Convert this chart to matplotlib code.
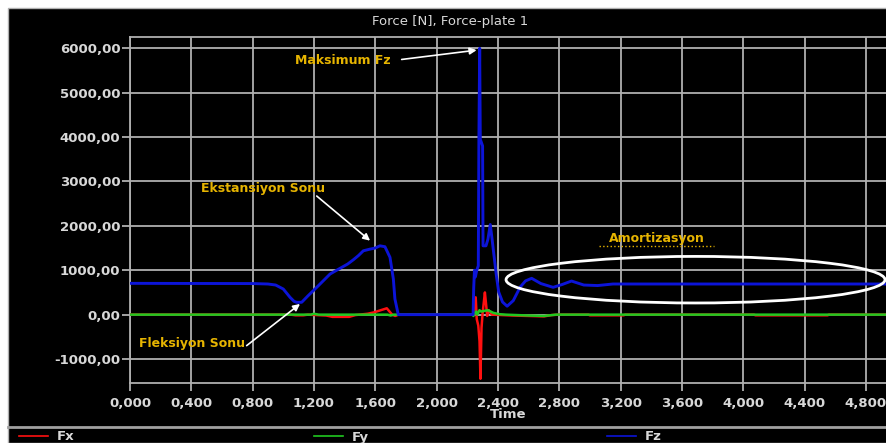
import matplotlib.pyplot as plt
from matplotlib.patches import Ellipse, Rectangle
from matplotlib.lines import Line2D

# data (time [s], force [N])
fz_t = [0.0, 0.4, 0.8, 0.9, 0.95, 1.0, 1.044, 1.07, 1.087, 1.12, 1.16, 1.218, 1.26,
        1.305, 1.37, 1.42, 1.457, 1.49, 1.522, 1.566, 1.6, 1.63, 1.663, 1.696, 1.718,
        1.728, 1.75, 2.0, 2.238, 2.242, 2.247, 2.253, 2.262, 2.272, 2.276, 2.281, 2.285,
        2.3, 2.303, 2.322, 2.335, 2.35, 2.362, 2.372, 2.39, 2.405, 2.43, 2.46, 2.5,
        2.545, 2.58, 2.62, 2.68, 2.76, 2.82, 2.88, 2.96, 3.05, 3.15, 4.0, 4.94]
fz_v = [705, 702, 700, 690, 667, 577, 390, 300, 278, 278, 420, 615, 760,
        915, 1043, 1140, 1236, 1330, 1438, 1476, 1500, 1550, 1530, 1290, 800,
        353, 0, 0, 0, 600, 1000, 850, 1000, 1100, 4000, 6000, 3950,
        3800, 1550, 1550, 1700, 2030, 1700, 1400, 880, 510, 285, 190, 315,
        620, 760, 818, 700, 615, 680, 757, 667, 655, 690, 690, 690]

fx_t = [0.0, 1.05, 1.08, 1.13, 1.16, 1.28, 1.32, 1.43, 1.47, 1.55, 1.59, 1.675, 1.71,
        1.73, 1.75, 2.238, 2.255, 2.262, 2.272, 2.28, 2.286, 2.293, 2.3, 2.315, 2.322,
        2.33, 2.34, 2.36, 2.5, 2.6, 2.7, 2.75, 2.8, 2.99, 3.0, 3.22, 3.23, 4.07, 4.08,
        4.55, 4.56, 4.94]
fx_v = [0, 0, -15, -15, 0, -20, -50, -50, -10, 20, 50, 143, 0,
        -30, 0, 0, 390, -100, -250, -600, -1445, -300, 30, 500, 260,
        -30, 100, 0, -20, -30, -40, -10, 0, 0, -15, -15, 0, 0, -15,
        -15, 0, 0]

fy_t = [0.0, 1.18, 1.2, 1.23, 1.68, 1.7, 1.72, 2.238, 2.24, 2.25, 2.258, 2.265, 2.28,
        2.29, 2.335, 2.37, 2.41, 2.45, 2.6, 2.7, 2.78, 4.94]
fy_v = [0, 0, 20, 0, 0, -20, 0, 0, -30, 40, 70, 0, 100,
        70, 100, 40, 10, 0, -20, -30, 0, 0]

x_ticks = [0.0, 0.4, 0.8, 1.2, 1.6, 2.0, 2.4, 2.8, 3.2, 3.6, 4.0, 4.4, 4.8]
y_ticks = [-1000, 0, 1000, 2000, 3000, 4000, 5000, 6000]

W, H = 887, 443
fig = plt.figure(figsize=(W / 100, H / 100), dpi=100, facecolor='white')
# black panel with a thin white margin on the left and top
fig.patches.append(Rectangle((8 / W, 0), 1 - 8 / W, 1 - 8 / H, transform=fig.transFigure,
                             facecolor='black', edgecolor='#b0b0b0', lw=1, zorder=-5))

ax = fig.add_axes([130 / W, 60 / H, (W - 130) / W, 346 / H])
ax.set_zorder(2)
ax.set_facecolor('black')
grid_c = '#b0b0b0'

l1, = ax.plot(fx_t, fx_v, color='#ff1010', lw=1.8, zorder=3)
l2, = ax.plot(fy_t, fy_v, color='#20c820', lw=1.8, zorder=4)
l3, = ax.plot(fz_t, fz_v, color='#0c14d8', lw=2.1, zorder=5)

ax.set_xlim(0, 4.938)
ax.set_ylim(-1540, 6254)
ax.set_xticks(x_ticks)
ax.set_yticks(y_ticks)
ax.set_xticklabels([f"{v:.3f}".replace('.', ',') for v in x_ticks])
ax.set_yticklabels([f"{v:.2f}".replace('.', ',') for v in y_ticks])
ax.grid(True, color=grid_c, lw=1.3, zorder=1)
ax.set_axisbelow(True)
ax.tick_params(colors=grid_c, length=6, width=1.3, labelcolor='#d8d8d8', labelsize=9.5)
for lab in ax.get_xticklabels() + ax.get_yticklabels():
    lab.set_fontweight('bold')
ax.tick_params(axis='y', pad=1)
ax.tick_params(axis='x', pad=4)
for s in ['left', 'bottom', 'top']:
    ax.spines[s].set_color(grid_c)
    ax.spines[s].set_linewidth(1.3)
ax.spines['right'].set_visible(False)

ax.set_xlabel('Time', color='#d8d8d8', fontsize=9.5, fontweight='bold', labelpad=-1)
fig.text(450 / W, 1 - 21 / H, 'Force [N], Force-plate 1', color='#d8d8d8',
         fontsize=9.5, ha='center', va='center')

# annotations
yel = '#e6b400'
arr = dict(arrowstyle='-|>', color='white', lw=1.2, mutation_scale=10, shrinkA=0, shrinkB=0)
ax.text(1.386, 5717, 'Maksimum Fz', color=yel, fontsize=9, fontweight='bold',
        ha='center', va='center', zorder=7)
ax.annotate('', xy=(2.261, 5958), xytext=(1.772, 5748), arrowprops=arr, zorder=7)
ax.text(0.868, 2836, 'Ekstansiyon Sonu', color=yel, fontsize=9, fontweight='bold',
        ha='center', va='center', zorder=7)
ax.annotate('', xy=(1.566, 1666), xytext=(1.218, 2672), arrowprops=arr, zorder=7)
ax.text(0.402, -644, 'Fleksiyon Sonu', color=yel, fontsize=9, fontweight='bold',
        ha='center', va='center', zorder=7)
ax.annotate('', xy=(1.109, 241), xytext=(0.761, -698), arrowprops=arr, zorder=7)
ax.text(3.436, 1726, 'Amortizasyon', color=yel, fontsize=9, fontweight='bold',
        ha='center', va='center', zorder=7)
ax.plot([3.06, 3.81], [1545, 1545], color=yel, lw=1, ls=':', zorder=6)
ax.add_patch(Ellipse((3.689, 787), 2.472, 1049, fill=False, edgecolor='white', lw=2, zorder=6))

# legend strip
fig.add_artist(Line2D([8 / W, 1], [1 - 427 / H, 1 - 427 / H], color='#a0a0a0', lw=2))
for line, lab, x0 in [(l1, 'Fx', 12), (l2, 'Fy', 307), (l3, 'Fz', 600)]:
    h = Line2D([], [], color=line.get_color(), lw=1.2)
    leg = fig.legend([h], [lab], loc='center left', bbox_to_anchor=(x0 / W, 1 - 437 / H),
                     frameon=False, handlelength=2.2, handletextpad=0.7, borderpad=0,
                     prop={'size': 9.5, 'weight': 'bold'})
    for t in leg.get_texts():
        t.set_color('#d8d8d8')

fig.savefig('out.png', dpi=100, facecolor=fig.get_facecolor())
